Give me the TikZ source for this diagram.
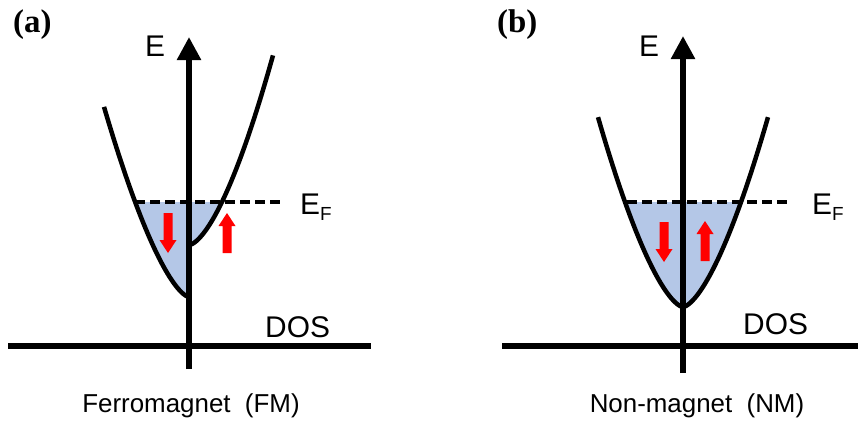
\documentclass[tikz,border=0pt]{standalone}
\usepackage{fontspec}
\setmainfont{Liberation Sans}
\newfontfamily\serifbold{Liberation Serif}
\usetikzlibrary{arrows.meta}
\definecolor{bandfill}{HTML}{B4C7E7}
\definecolor{spinred}{HTML}{FF0000}
\begin{document}
\begin{tikzpicture}[x=1bp,y=-1bp,
  axis/.style={line width=5.5bp},
  axisarrow/.style={line width=5.5bp,-{Triangle[width=23bp,length=23bp]}},
  band/.style={line width=4.5bp},
  fermi/.style={line width=4.5bp,dash pattern=on 10bp off 5bp},
  lbl/.style={inner sep=0pt,font=\fontsize{30}{30}\selectfont,anchor=base west},
  capt/.style={inner sep=0pt,font=\fontsize{26}{26}\selectfont,anchor=base},
  panel/.style={inner sep=0pt,font=\fontsize{33}{33}\selectfont\serifbold\bfseries,anchor=base west},
  spinup/.pic={\fill[spinred] (-4.5,0) -- (-4.5,-27) -- (-8.5,-27) -- (0,-40) -- (8.5,-27) -- (4.5,-27) -- (4.5,0) -- cycle;},
  spindown/.pic={\fill[spinred] (-4.5,0) -- (-4.5,27) -- (-8.5,27) -- (0,40) -- (8.5,27) -- (4.5,27) -- (4.5,0) -- cycle;}
]
\useasboundingbox (0,0) rectangle (858,421);

% ---------- panel (a) ----------
\coordinate (a-bot) at (189,369);
\coordinate (a-top) at (189,37);
\coordinate (a-left) at (8,346);
\coordinate (a-right) at (371,346);
\coordinate (a-ef1) at (135,202);
\coordinate (a-ef2) at (282,202);

\fill[bandfill] plot[domain=53.8:0.01,samples=40] ({189-\x},{297-0.222*pow(\x,1.52)})
  -- (189,245) -- plot[domain=0.01:32.9,samples=30] ({189+\x},{245-0.169*pow(\x,1.585)}) -- cycle;
\draw[fermi] (a-ef1) -- (a-ef2);
\draw[band] plot[domain=85:0.01,samples=60] ({189-\x},{297-0.222*pow(\x,1.52)});
\draw[band] plot[domain=0.01:84,samples=60] ({189+\x},{245-0.169*pow(\x,1.585)});
\draw[axis] (a-left) -- (a-right);
\draw[axisarrow] (a-bot) -- (a-top);
\pic at (168,213) {spindown};
\pic at (227,253) {spinup};

\node[panel] (a-lab) at (13,32) {(a)};
\node[lbl] (a-E) at (145,56) {E};
\node[lbl] (a-EF) at (300,214) {E\raisebox{-6bp}{\fontsize{19}{19}\selectfont F}};
\node[lbl] (a-DOS) at (265,337) {DOS};
\node[capt] (a-cap) at (191,412) {Ferromagnet\ \ (FM)};

% ---------- panel (b) ----------
\coordinate (b-bot) at (683,373);
\coordinate (b-top) at (683,36);
\coordinate (b-left) at (502,346);
\coordinate (b-right) at (858,346);
\coordinate (b-ef1) at (627,202);
\coordinate (b-ef2) at (792,202);

\fill[bandfill] plot[domain=-58:58,samples=81] ({683+\x},{307-0.194*pow(abs(\x)+0.001,1.55)}) -- cycle;
\draw[fermi] (b-ef1) -- (b-ef2);
\draw[band] plot[domain=-85:85,samples=121] ({683+\x},{307-0.194*pow(abs(\x)+0.001,1.55)});
\draw[axis] (b-left) -- (b-right);
\draw[axisarrow] (b-bot) -- (b-top);
\pic at (664,222) {spindown};
\pic at (705,261) {spinup};

\node[panel] (b-lab) at (497,32) {(b)};
\node[lbl] (b-E) at (639,56) {E};
\node[lbl] (b-EF) at (812,214) {E\raisebox{-6bp}{\fontsize{19}{19}\selectfont F}};
\node[lbl] (b-DOS) at (743,334) {DOS};
\node[capt] (b-cap) at (697,412) {Non-magnet\ \ (NM)};
\end{tikzpicture}
\end{document}
